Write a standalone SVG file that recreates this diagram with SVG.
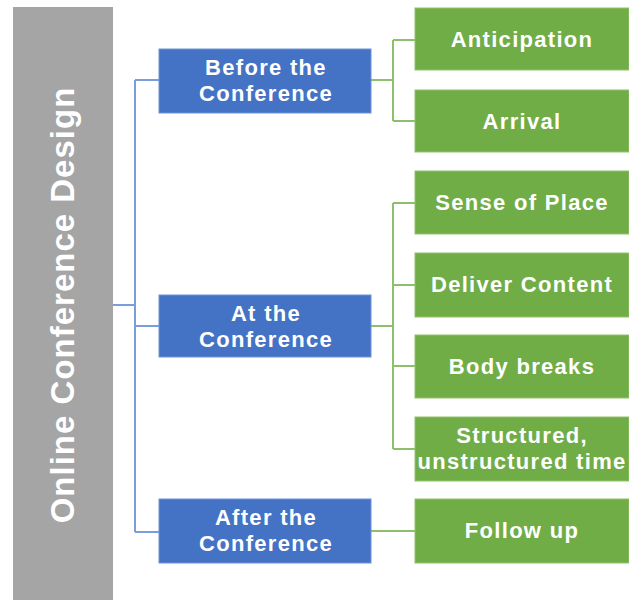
<svg xmlns="http://www.w3.org/2000/svg" width="629" height="600" viewBox="0 0 629 600">
<style>
.t{font-family:"Liberation Sans","DejaVu Sans",sans-serif;font-weight:bold;fill:#fff;text-anchor:middle;font-size:22px;letter-spacing:1.3px}
.b{fill:#4472c4;stroke:#6f93d6;stroke-width:1}
.g{fill:#70ad47;stroke:#8fc46a;stroke-width:1}
.cb{fill:none;stroke:#7c9ddc;stroke-width:2}
.cg{fill:none;stroke:#8cc06a;stroke-width:2}
</style>
<rect width="629" height="600" fill="#fff"/>
<g id="root">
<rect x="13" y="7" width="100" height="593" fill="#a5a5a5"/>
<text class="t" style="font-size:33px;letter-spacing:1px" transform="translate(74,305) rotate(-90)">Online Conference Design</text>
</g>
<g id="connectors">
<path class="cb" d="M113,305 H135 M135,80 V532 M135,80 H159 M135,326 H159 M135,532 H159"/>
<path class="cg" d="M371,80 H393 M393,40 V121 M393,40 H415 M393,121 H415"/>
<path class="cg" d="M371,326 H393 M393,203 V449 M393,203 H415 M393,285 H415 M393,366 H415 M393,449 H415"/>
<path class="cg" d="M371,531 H415"/>
</g>
<g id="before"><rect class="b" x="159" y="49" width="212" height="64"/><text class="t" x="266" y="75">Before the</text><text class="t" x="266" y="101">Conference</text></g>
<g id="at"><rect class="b" x="159" y="295" width="212" height="62"/><text class="t" x="266" y="321">At the</text><text class="t" x="266" y="347">Conference</text></g>
<g id="after"><rect class="b" x="159" y="499" width="212" height="64"/><text class="t" x="266" y="525">After the</text><text class="t" x="266" y="551">Conference</text></g>
<g id="anticipation"><rect class="g" x="415" y="8" width="214" height="62"/><text class="t" x="522" y="47">Anticipation</text></g>
<g id="arrival"><rect class="g" x="415" y="90" width="214" height="62"/><text class="t" x="522" y="129">Arrival</text></g>
<g id="sense"><rect class="g" x="415" y="171" width="214" height="63"/><text class="t" x="522" y="210">Sense of Place</text></g>
<g id="deliver"><rect class="g" x="415" y="253" width="214" height="64"/><text class="t" x="522" y="292">Deliver Content</text></g>
<g id="body"><rect class="g" x="415" y="335" width="214" height="63"/><text class="t" x="522" y="374">Body breaks</text></g>
<g id="structured"><rect class="g" x="415" y="417" width="214" height="64"/><text class="t" x="522" y="443">Structured,</text><text class="t" x="522" y="469">unstructured time</text></g>
<g id="follow"><rect class="g" x="415" y="499" width="214" height="64"/><text class="t" x="522" y="538">Follow up</text></g>
</svg>
